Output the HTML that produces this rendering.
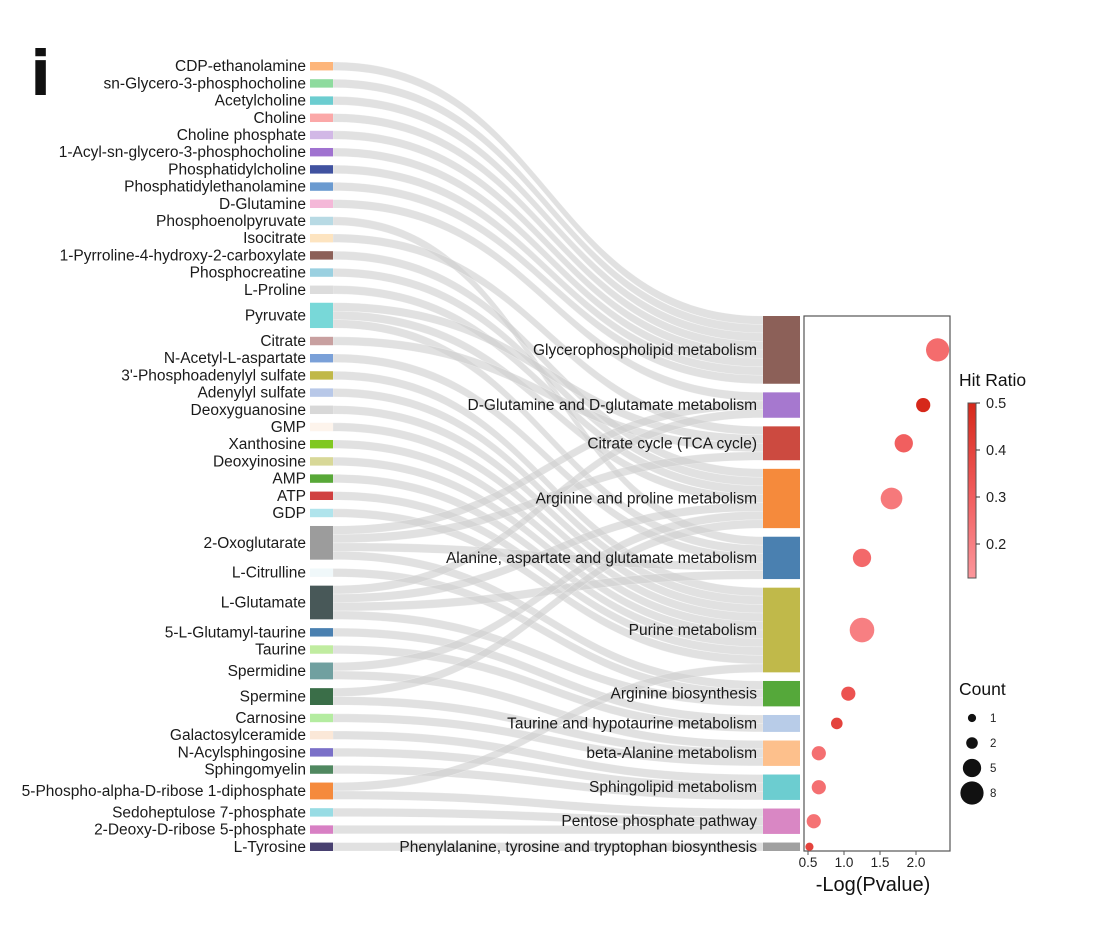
<!DOCTYPE html>
<html><head><meta charset="utf-8"><style>
body{margin:0;background:#fff}
svg{display:block;font-family:"Liberation Sans",Arial,sans-serif}
</style></head><body>
<svg id="chart" width="1120" height="931" viewBox="0 0 1120 931" xmlns="http://www.w3.org/2000/svg">
<text x="32" y="94" font-size="62" font-weight="bold" fill="#111" stroke="#111" stroke-width="2">i</text>
<g id="links"></g>
<g id="lnodes"></g>
<g id="rnodes"></g>
<g id="dots"></g>
<g id="legend"></g>
</svg>
<script>
const metabolites=["CDP-ethanolamine","sn-Glycero-3-phosphocholine","Acetylcholine","Choline","Choline phosphate","1-Acyl-sn-glycero-3-phosphocholine","Phosphatidylcholine","Phosphatidylethanolamine","D-Glutamine","Phosphoenolpyruvate","Isocitrate","1-Pyrroline-4-hydroxy-2-carboxylate","Phosphocreatine","L-Proline","Pyruvate","Citrate","N-Acetyl-L-aspartate","3'-Phosphoadenylyl sulfate","Adenylyl sulfate","Deoxyguanosine","GMP","Xanthosine","Deoxyinosine","AMP","ATP","GDP","2-Oxoglutarate","L-Citrulline","L-Glutamate","5-L-Glutamyl-taurine","Taurine","Spermidine","Spermine","Carnosine","Galactosylceramide","N-Acylsphingosine","Sphingomyelin","5-Phospho-alpha-D-ribose 1-diphosphate","Sedoheptulose 7-phosphate","2-Deoxy-D-ribose 5-phosphate","L-Tyrosine"];
const metaboliteColors=["#fdb57a","#8edb9e","#6ccdd0","#fba8a8","#d2b8e6","#a072d0","#4052a0","#6a9ad0","#f4b8d8","#b8dae4","#fde4c0","#8c6058","#9ad0e0","#dcdcdc","#78d8d8","#c8a0a0","#7aa0d8","#c0b848","#b8c8e8","#d8d8d8","#fdf4ec","#80c820","#d8d898","#58a838","#d04040","#b0e4ec","#9c9c9c","#f0f8fa","#485858","#4a80b0","#c0eca0","#70a0a0","#3a6e48","#b4eca0","#fbe8d8","#7a70c8","#508860","#f58a3c","#98dce4","#d880c4","#484070"];
const pathways=["Glycerophospholipid metabolism","D-Glutamine and D-glutamate metabolism","Citrate cycle (TCA cycle)","Arginine and proline metabolism","Alanine, aspartate and glutamate metabolism","Purine metabolism","Arginine biosynthesis","Taurine and hypotaurine metabolism","beta-Alanine metabolism","Sphingolipid metabolism","Pentose phosphate pathway","Phenylalanine, tyrosine and tryptophan biosynthesis"];
const pathwayColors=["#8c6058","#a678cf","#cc4a40","#f58a3c","#4a80b0","#c0b94a","#55a83a","#b8cce8","#fdc08c","#6ccdd0","#d987c4","#a0a0a0"];
const linkSource=[0,1,2,3,4,5,6,7,8,9,10,11,12,13,14,14,14,15,16,17,18,19,20,21,22,23,24,25,26,26,26,26,27,28,28,28,28,29,30,31,31,32,32,33,34,35,36,37,37,38,39,40];
const linkTarget=[0,0,0,0,0,0,0,0,1,4,2,3,3,3,2,4,3,2,4,5,5,5,5,5,5,5,5,5,1,2,4,6,6,1,3,4,6,7,7,3,8,3,8,8,9,9,9,5,10,10,10,11];
const negLogP=[2.3,2.1,1.83,1.66,1.25,1.25,1.06,0.9,0.65,0.65,0.58,0.52];
const hitRatio=[0.26,0.5,0.3,0.22,0.27,0.2,0.34,0.4,0.25,0.25,0.24,0.4];
const counts=[8,3,5,7,5,9,3,2,3,3,3,1];
const xTicks=[0.5,1.0,1.5,2.0];
const colorTicks=[0.5,0.4,0.3,0.2];
const sizeLegend=[1,2,5,8];

const NS="http://www.w3.org/2000/svg";
function mk(tag,attrs,parent,text){const e=document.createElementNS(NS,tag);for(const k in attrs)e.setAttribute(k,attrs[k]);if(text!==undefined)e.textContent=text;parent.appendChild(e);return e;}

const LX0=310,LX1=333,RX0=763,RX1=800,TOP_L=62,BOT_L=851,TOP_R=316,BOT_R=851;
const nL=metabolites.length,nR=pathways.length,nLinks=linkSource.length;
const gapL=8.77,gapR=8.6;
const uL=(BOT_L-TOP_L-gapL*(nL-1))/nLinks, uR=(BOT_R-TOP_R-gapR*(nR-1))/nLinks;
const lCount=metabolites.map((_,i)=>linkSource.filter(s=>s===i).length);
const rCount=pathways.map((_,j)=>linkTarget.filter(t=>t===j).length);
const lY=[],rY=[];let y=TOP_L;lCount.forEach(c=>{lY.push(y);y+=c*uL+gapL;});
y=TOP_R;rCount.forEach(c=>{rY.push(y);y+=c*uR+gapR;});

const gl=document.getElementById('links');
const idx=[...Array(nLinks).keys()];
const lOff=metabolites.map(()=>0),rOff=pathways.map(()=>0);
const ly=[],ry=[];
idx.slice().sort((a,b)=>linkSource[a]-linkSource[b]||linkTarget[a]-linkTarget[b]).forEach(k=>{const s=linkSource[k];ly[k]=lY[s]+lOff[s]*uL;lOff[s]++;});
idx.slice().sort((a,b)=>linkTarget[a]-linkTarget[b]||linkSource[a]-linkSource[b]).forEach(k=>{const t=linkTarget[k];ry[k]=rY[t]+rOff[t]*uR;rOff[t]++;});
const mx=(LX1+RX0)/2;
idx.forEach(k=>{
  const a=ly[k],b=ry[k],a2=a+uL,b2=b+uR;
  const d=`M${LX1},${a} C${mx},${a} ${mx},${b} ${RX0},${b} L${RX0},${b2} C${mx},${b2} ${mx},${a2} ${LX1},${a2} Z`;
  const p=mk('path',{d:d,fill:'#cfcfcf','fill-opacity':0.62,stroke:'#ffffff','stroke-opacity':0.35,'stroke-width':0.6},gl);
  
  
});

const FS=15.5;
const gln=document.getElementById('lnodes');
metabolites.forEach((m,i)=>{
  const h=lCount[i]*uL;
  const r=mk('rect',{x:LX0,y:lY[i],width:LX1-LX0,height:h,fill:metaboliteColors[i]},gln);
  
  
  const t=mk('text',{x:306,y:lY[i]+h/2+5,'text-anchor':'end','font-size':FS,fill:'#1a1a1a'},gln,m);
  
  
});
const grn=document.getElementById('rnodes');
pathways.forEach((p,j)=>{
  const h=rCount[j]*uR;
  const r=mk('rect',{x:RX0,y:rY[j],width:RX1-RX0,height:h,fill:pathwayColors[j]},grn);
  
  
  const t=mk('text',{x:757,y:rY[j]+h/2+5,'text-anchor':'end','font-size':FS,fill:'#1a1a1a'},grn,p);
  
  
});

const PX0=804,PX1=950;
const xS=v=>808+(v-0.5)*72;
const rS=c=>4.1*Math.sqrt(c);
function lerp(a,b,t){return Math.round(a+(b-a)*t);}
function col(v){const t=Math.max(0,Math.min(1,(v-0.13)/(0.5-0.13)));const lo=[252,150,155],mid=[240,90,90],hi=[214,40,26];
  let c;if(t<0.5){const u=t/0.5;c=lo.map((x,i)=>lerp(x,mid[i],u));}else{const u=(t-0.5)/0.5;c=mid.map((x,i)=>lerp(x,hi[i],u));}return `rgb(${c[0]},${c[1]},${c[2]})`;}
const gd=document.getElementById('dots');
const frame=mk('rect',{x:PX0,y:TOP_R,width:PX1-PX0,height:BOT_R-TOP_R,fill:'none',stroke:'#555','stroke-width':1.2},gd);


pathways.forEach((p,j)=>{
  const cy=rY[j]+rCount[j]*uR/2;
  const c=mk('circle',{cx:xS(negLogP[j]),cy:cy,r:rS(counts[j]),fill:col(hitRatio[j])},gd);
  
  
});
xTicks.forEach(v=>{
  const l=mk('line',{x1:xS(v),x2:xS(v),y1:BOT_R,y2:BOT_R+4,stroke:'#555'},gd);
  
  
  const t=mk('text',{x:xS(v),y:BOT_R+16,'text-anchor':'middle','font-size':13.5,fill:'#222'},gd,v.toFixed(1));
  
  
});
const xt=mk('text',{x:873,y:891,'text-anchor':'middle','font-size':20,fill:'#111'},gd,'-Log(Pvalue)');



const lg=document.getElementById('legend');
const ht=mk('text',{x:959,y:386,'font-size':17.5,fill:'#111'},lg,'Hit Ratio');


const defs=mk('defs',{},lg);
const grad=mk('linearGradient',{id:'hg',x1:0,y1:1,x2:0,y2:0},defs);
[0,0.25,0.5,0.75,1].forEach(t=>mk('stop',{offset:t,'stop-color':col(0.13+t*0.37)},grad));
const cbTop=403,cbBot=578,cbv=v=>cbTop+(0.5-v)*470;
const cb=mk('rect',{x:968,y:cbTop,width:8,height:cbBot-cbTop,fill:'url(#hg)',stroke:'#555','stroke-width':1},lg);


colorTicks.forEach(v=>{
  const l=mk('line',{x1:976,x2:980,y1:cbv(v),y2:cbv(v),stroke:'#333'},lg);
  
  
  const t=mk('text',{x:986,y:cbv(v)+5,'font-size':14.5,fill:'#222'},lg,v.toFixed(1));
  
  
});
const ct=mk('text',{x:959,y:695,'font-size':17.5,fill:'#111'},lg,'Count');


sizeLegend.forEach((c,i)=>{
  const cy=718+i*25;
  const e=mk('circle',{cx:972,cy:cy,r:rS(c),fill:'#111'},lg);
  
  
  const t=mk('text',{x:990,y:cy+4,'font-size':11.5,fill:'#222'},lg,String(c));
  
  
});
</script>
</body></html>
